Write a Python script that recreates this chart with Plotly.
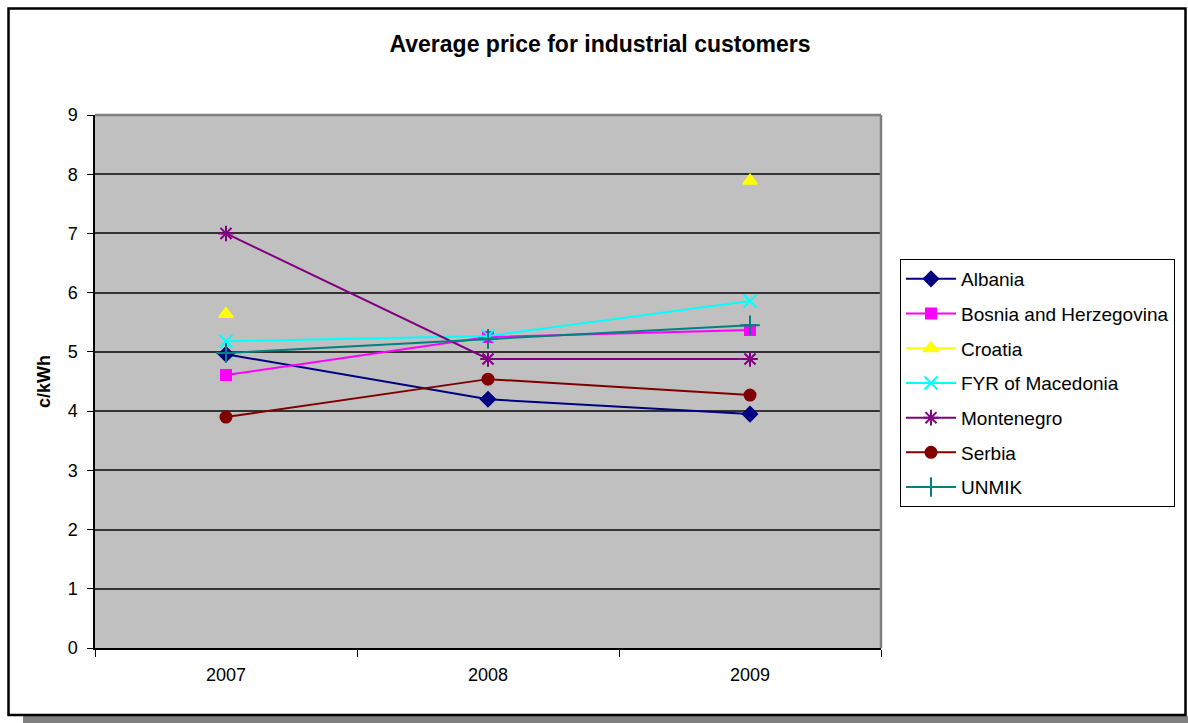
import plotly.graph_objects as go

years = ["2007", "2008", "2009"]

albania = [4.96, 4.20, 3.95]
bosnia = [4.61, 5.25, 5.37]
croatia = [5.64, None, 7.89]
macedonia = [5.18, 5.27, 5.86]
montenegro = [7.00, 4.88, 4.88]
serbia = [3.90, 4.54, 4.27]
unmik = [4.98, 5.22, 5.45]

y_ticks = list(range(0, 10))

series = [
    ("Albania", albania, "#000080", "diamond", 11),
    ("Bosnia and Herzegovina", bosnia, "#FF00FF", "square", 10),
    ("Croatia", croatia, "#FFFF00", "triangle-up", 12),
    ("FYR of Macedonia", macedonia, "#00FFFF", "x-thin-open", 13),
    ("Montenegro", montenegro, "#800080", "asterisk-open", 13),
    ("Serbia", serbia, "#800000", "circle", 11),
    ("UNMIK", unmik, "#008080", "cross-thin-open", 14),
]

fig = go.Figure()
for name, vals, color, symbol, size in series:
    fig.add_trace(go.Scatter(
        x=years, y=vals, name=name, mode="lines+markers",
        legendgroup=name,
        connectgaps=False,
        line=dict(color=color, width=2),
        marker=dict(symbol=symbol, size=size, color=color,
                    line=dict(color=color, width=2)),
    ))

# plot area spans x 95..881, y 115..648 of a 1188x723 page
L, R, T, B = 95, 881, 115, 648
W, H = 1188, 723


def px(x):
    return (x - L) / (R - L)


def py(y):
    return (B - y) / (B - T)


shapes = [
    # drop shadow under the chart frame
    dict(type="rect", xref="paper", yref="paper",
         x0=px(23), x1=px(1190), y0=py(716), y1=py(725),
         fillcolor="#808080", line=dict(width=0), layer="below"),
    # outer chart frame
    dict(type="rect", xref="paper", yref="paper",
         x0=px(8.5), x1=px(1185.5), y0=py(715), y1=py(8.5),
         line=dict(color="#000000", width=2.5), fillcolor="rgba(0,0,0,0)"),
    # plot area border (top and right)
    dict(type="line", xref="paper", yref="paper",
         x0=0, x1=1, y0=1, y1=1, line=dict(color="#808080", width=2.5)),
    dict(type="line", xref="paper", yref="paper",
         x0=1, x1=1, y0=0, y1=1, line=dict(color="#808080", width=2.5)),
]

fig.update_layout(
    width=W, height=H,
    margin=dict(l=L, r=W - R, t=T, b=H - B, autoexpand=False),
    paper_bgcolor="white",
    plot_bgcolor="#C0C0C0",
    font=dict(family="Liberation Sans, Arial, sans-serif", size=18, color="#000000"),
    title=dict(text="<b>Average price for industrial customers</b>",
               x=600 / W, xanchor="center",
               y=1 - 44 / H, yanchor="middle",
               font=dict(size=23)),
    showlegend=True,
    legend=dict(
        x=px(900), y=py(259), xanchor="left", yanchor="top",
        bgcolor="white", bordercolor="#000000", borderwidth=1,
        font=dict(size=19), itemwidth=50,
        traceorder="grouped", tracegroupgap=7,
    ),
    shapes=shapes,
)

fig.update_xaxes(
    type="category", range=[-0.5, 2.5],
    tickson="boundaries", ticks="outside", ticklen=7, tickcolor="#000000",
    showgrid=False, showline=True, linecolor="#000000", linewidth=1.5,
    ticklabelstandoff=10, tickfont=dict(size=18),
)
fig.update_yaxes(
    range=[0, 9], tickvals=y_ticks, ticktext=[str(v) for v in y_ticks],
    ticks="outside", ticklen=6, tickcolor="#000000",
    showgrid=True, gridcolor="#333333", gridwidth=1.5,
    showline=True, linecolor="#000000", linewidth=1.5,
    zeroline=False, tickfont=dict(size=18), ticklabelstandoff=6,
    title=dict(text="<b>c/kWh</b>", font=dict(size=18), standoff=12),
)

fig.write_html("out.html")
